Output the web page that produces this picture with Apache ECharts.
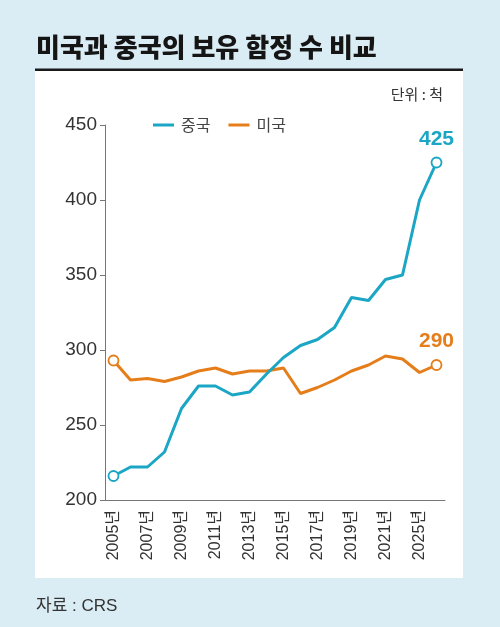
<!DOCTYPE html>
<html><head><meta charset="utf-8">
<script src="https://cdn.jsdelivr.net/npm/echarts@6/dist/echarts.min.js"></script>
<style>html,body{margin:0;padding:0;background:#dbedf4}#c{width:500px;height:627px}</style>
</head><body><div id="c"></div>
<script>
const categories = ['2005년','2006년','2007년','2008년','2009년','2010년','2011년','2012년','2013년','2014년','2015년','2016년','2017년','2018년','2019년','2020년','2021년','2022년','2025년','2030년'];
const chinaValues = [216,222,222,232,261,276,276,270,272,284,295,303,307,315,335,333,347,350,400,425];
const usValues    = [293,280,281,279,282,286,288,284,286,286,288,271,275,280,286,290,296,294,285,290];
const yTicks = {min:200, max:450, interval:50};
const seriesNames = ['중국','미국'];
const colors = ['#1aa6c4','#e57e1a'];

const NUM = '"Liberation Sans Narrow","Arial Narrow","Liberation Sans","Noto Sans CJK KR",sans-serif';
const KR = '"Noto Sans CJK KR",sans-serif';

function build(values, color){
  const last = values.length - 1;
  return values.map((v,i)=>{
    if(i===0 || i===last){
      return {value:v, symbol:'circle', symbolSize:10,
        itemStyle:{color:'#fff', borderColor:color, borderWidth:1.8},
        label: i===last ? {show:true, position:'top', distance:7, formatter:'{c}',
          color:color, fontSize:21, fontWeight:'bold', fontFamily:'"Liberation Sans",sans-serif'} : {show:false}};
    }
    return {value:v, symbol:'none'};
  });
}

const chart = echarts.init(document.getElementById('c'));
chart.setOption({
  backgroundColor:'#dbedf4',
  animation:false,
  graphic:[
    {type:'rect', shape:{x:35,y:71,width:428,height:507}, style:{fill:'#ffffff'}, z:-10},
    {type:'rect', shape:{x:35,y:68.5,width:428,height:2.5}, style:{fill:'#1a1a1a'}, z:-9}
  ],
  title:[
    {text:'미국과 중국의 보유 함정 수 비교', left:31, top:29,
      textStyle:{fontFamily:KR, fontSize:26, fontWeight:900, color:'#151515'}},
    {text:'단위 : 척', right:52, top:82,
      textStyle:{fontFamily:KR, fontSize:15, fontWeight:'normal', color:'#333'}},
    {text:'자료 : CRS', left:31, top:593,
      textStyle:{fontFamily:NUM, fontSize:17, fontWeight:'normal', color:'#333'}}
  ],
  legend:{
    left:148, top:112, icon:'rect', itemWidth:21, itemHeight:3, itemGap:18,
    data:seriesNames,
    textStyle:{fontFamily:KR, fontSize:16, color:'#444', padding:[0,0,0,2]}
  },
  grid:{left:105, right:55, top:125, bottom:127},
  xAxis:{
    type:'category', data:categories, boundaryGap:true,
    axisLine:{lineStyle:{color:'#777', width:1}},
    axisTick:{show:false},
    axisLabel:{interval:1, rotate:90, margin:10, fontFamily:NUM, fontSize:16, color:'#333'}
  },
  yAxis:{
    type:'value', min:yTicks.min, max:yTicks.max, interval:yTicks.interval,
    splitLine:{show:false},
    axisLine:{show:true, lineStyle:{color:'#777', width:1}},
    axisTick:{show:true, length:5, lineStyle:{color:'#777'}},
    axisLabel:{margin:8, fontFamily:NUM, fontSize:19, color:'#333'}
  },
  series:[
    {name:seriesNames[0], type:'line', data:build(chinaValues, colors[0]), color:colors[0],
      lineStyle:{width:3, color:colors[0]}, showAllSymbol:true, z:3},
    {name:seriesNames[1], type:'line', data:build(usValues, colors[1]), color:colors[1],
      lineStyle:{width:3, color:colors[1]}, showAllSymbol:true, z:2}
  ]
});
</script></body></html>
